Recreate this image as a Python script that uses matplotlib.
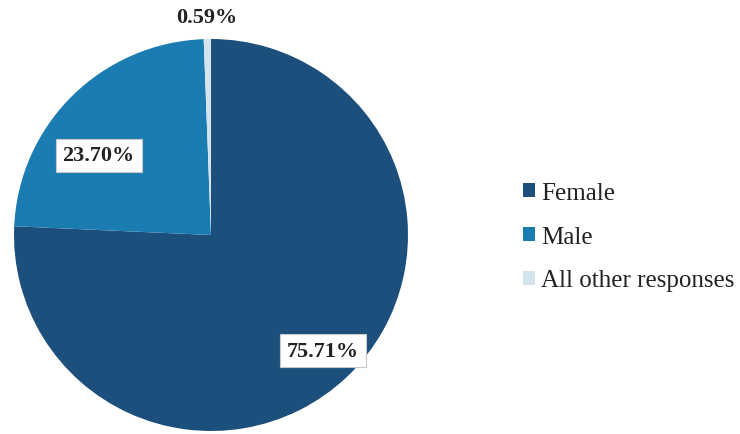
import matplotlib
matplotlib.use("Agg")
import matplotlib.pyplot as plt
import numpy as np

categories = ["Female", "Male", "All other responses"]
shares = [75.71, 23.70, 0.59]
colors = ["#1d4f7c", "#1b7cb2", "#d3e4ec"]

W, H = 740, 435
fig = plt.figure(figsize=(W / 100, H / 100), dpi=100)
fig.patch.set_facecolor("white")

# pie area in pixel terms: left 14, right 408, top 40, bottom 432
left, right, top, bottom = 14, 408, 40, 432
ax = fig.add_axes([left / W, (H - bottom) / H, (right - left) / W, (bottom - top) / H])
wedges, _ = ax.pie(shares, colors=colors, startangle=90, counterclock=False,
                   radius=1.0, wedgeprops=dict(linewidth=0))
ax.set_xlim(-1, 1)
ax.set_ylim(-1, 1)
ax.set_aspect("auto")
ax.axis("off")

# label placement (distance from centre, angle in degrees) per slice
label_pos = [(0.82, -46.0), (0.70, 144.5), (1.11, 91.0)]
boxed = [True, True, False]
for val, (d, ang), has_box in zip(shares, label_pos, boxed):
    x = d * np.cos(np.radians(ang))
    y = d * np.sin(np.radians(ang))
    bbox = dict(boxstyle="square,pad=0.3", facecolor="white",
                edgecolor="#c8c8c8", linewidth=0.8) if has_box else None
    ax.text(x, y, f"{val:.2f}%", ha="center", va="center",
            fontsize=16, fontweight="bold", family="Liberation Serif",
            color="#222222", bbox=bbox, clip_on=False)

leg = fig.legend(wedges, categories, loc="upper left",
                 bbox_to_anchor=(500 / W, 1 - 160 / H),
                 frameon=False, handlelength=0.5, handleheight=0.5,
                 handletextpad=0.25, labelspacing=0.88,
                 prop=dict(family="Liberation Serif", size=18))
for t in leg.get_texts():
    t.set_color("#222222")

fig.savefig("out.png", dpi=100, facecolor="white")
